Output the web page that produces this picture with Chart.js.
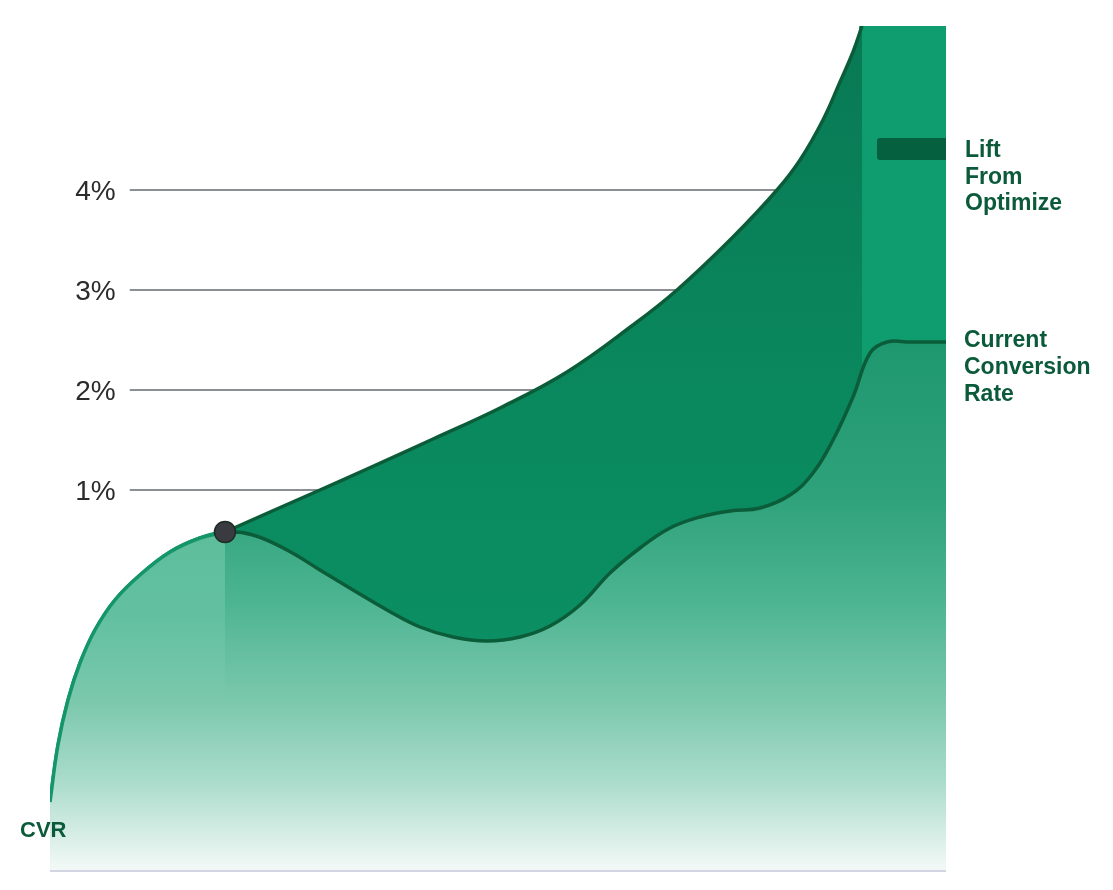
<!DOCTYPE html>
<html>
<head>
<meta charset="utf-8">
<script src="https://cdn.jsdelivr.net/npm/chart.js@4.4.1/dist/chart.umd.min.js"></script>
<style>
  html, body { margin: 0; padding: 0; background: #ffffff; }
  #wrap { width: 1113px; height: 890px; position: relative; }
</style>
</head>
<body>
<div id="wrap"><canvas id="c" width="1113" height="890"></canvas></div>
<script>
// ---- Data (x: relative time 0–100, y: conversion rate in %) ----
const currentX = [0, 0.89, 2.01, 3.35, 5.02, 7.25, 10.04, 13.39, 16.74, 19.53, 22.66, 26.45, 30.13, 33.82, 37.61, 41.29, 44.98, 48.77, 52.46, 55.80, 59.15, 62.50, 65.85, 69.20, 72.54, 75.89, 79.24, 82.59, 85.16, 87.39, 89.62, 91.52, 93.42, 95.98, 100];
const currentY = [-2.12, -1.55, -1.10, -0.73, -0.40, -0.10, 0.15, 0.38, 0.52, 0.58, 0.55, 0.40, 0.20, 0.00, -0.20, -0.37, -0.47, -0.51, -0.47, -0.36, -0.15, 0.17, 0.42, 0.62, 0.73, 0.79, 0.82, 0.95, 1.17, 1.50, 1.93, 2.37, 2.48, 2.48, 2.48];
const liftX = [19.53, 24.55, 30.13, 35.38, 42.75, 50.22, 57.70, 65.07, 69.98, 76.23, 81.14, 83.71, 86.27, 88.17, 89.62, 90.63];
const liftY = [0.58, 0.78, 1.00, 1.21, 1.51, 1.82, 2.18, 2.65, 3.00, 3.53, 4.00, 4.30, 4.70, 5.08, 5.38, 5.64];
const bandX = [90.3, 100];
const bandY = [5.64, 5.64];
const markerX = [19.53];
const markerY = [0.58];
const splitX = 19.53;           // where the optimisation starts
const yTicks = [1, 2, 3, 4];    // percent tick labels
const gridStartX = 8.9;
const yMin = -2.8, yMax = 5.64;
const liftLabel = ['Lift', 'From', 'Optimize'];
const currentLabel = ['Current', 'Conversion', 'Rate'];
const axisLabel = 'CVR';

const toPts = (xs, ys) => xs.map((x, i) => ({ x, y: ys[i] }));
const leftIdx = currentX.filter(x => x <= splitX).length;
const leftX = currentX.slice(0, leftIdx);
const leftY = currentY.slice(0, leftIdx);

function vGrad(ctx, area, stops) {
  const g = ctx.createLinearGradient(0, area.top, 0, area.bottom);
  stops.forEach(s => g.addColorStop(s[0], s[1]));
  return g;
}
// stops given in pixel-fractions of the plot height
const rightStops = [[0, '#16906a'], [0.37, '#1e976f'], [0.56, '#2fa27b'], [0.68, '#4cb491'], [0.80, '#7bc8ad'], [0.895, '#aadccb'], [0.985, '#e9f5f1'], [1, '#f2f9f6']];
const leftStops  = [[0, '#55bb97'], [0.60, '#5ebe9c'], [0.70, '#62c0a0'], [0.80, '#7bc8ad'], [0.895, '#aadccb'], [0.985, '#e9f5f1'], [1, '#f2f9f6']];
const liftStops  = [[0, '#087954'], [0.4, '#0a875d'], [0.75, '#0b8f63'], [1, '#0b8f63']];

const decor = {
  id: 'decor',
  beforeDatasetsDraw(chart) {
    const { ctx, chartArea: a, scales: { x, y } } = chart;
    ctx.save();
    // grid lines
    ctx.strokeStyle = '#8b8e93';
    ctx.lineWidth = 2;
    const gx = x.getPixelForValue(gridStartX);
    const gxEnd = x.getPixelForValue(bandX[0]) + 2;
    yTicks.forEach(t => {
      const py = Math.round(y.getPixelForValue(t));
      ctx.beginPath(); ctx.moveTo(gx, py); ctx.lineTo(gxEnd, py); ctx.stroke();
    });
    // tick labels
    ctx.fillStyle = '#2b2b2b';
    ctx.font = '28px "Liberation Sans", Arial, sans-serif';
    ctx.textAlign = 'right';
    ctx.textBaseline = 'alphabetic';
    yTicks.forEach(t => {
      ctx.fillText(t + '%', gx - 14, y.getPixelForValue(t) + 10);
    });
    ctx.restore();
  },
  afterDatasetsDraw(chart) {
    const { ctx, chartArea: a, scales: { x, y } } = chart;
    ctx.save();
    // baseline
    ctx.strokeStyle = '#d3d3e3';
    ctx.lineWidth = 2;
    ctx.beginPath(); ctx.moveTo(a.left, a.bottom + 1); ctx.lineTo(a.right, a.bottom + 1); ctx.stroke();
    // legend swatch for lift
    const sw = 69, sh = 22, sy = 138;
    ctx.fillStyle = '#05603f';
    ctx.beginPath();
    ctx.roundRect(a.right - sw, sy, sw, sh, [3, 0, 0, 3]);
    ctx.fill();
    // labels
    ctx.fillStyle = '#0b5a3a';
    ctx.font = 'bold 23px "Liberation Sans", Arial, sans-serif';
    ctx.textAlign = 'left';
    ctx.textBaseline = 'alphabetic';
    const lx = a.right + 19;
    liftLabel.forEach((s, i) => ctx.fillText(s, lx, sy + sh / 2 + 8 + i * 26.5));
    const cy = y.getPixelForValue(currentY[currentY.length - 1]);
    currentLabel.forEach((s, i) => ctx.fillText(s, lx - 1, cy + 5 + i * 26.8));
    ctx.font = 'bold 22px "Liberation Sans", Arial, sans-serif';
    ctx.fillText(axisLabel, 20, 837);
    ctx.restore();
  }
};

const smooth = 0.4;
new Chart(document.getElementById('c'), {
  type: 'line',
  data: {
    datasets: [
      { // optimisation start marker
        label: 'marker', data: toPts(markerX, markerY), order: 0,
        showLine: false, pointRadius: 10.5, pointBackgroundColor: '#3a3b41',
        pointBorderColor: '#1e2b25', pointBorderWidth: 1.5, clip: false
      },
      { // left (pre-optimisation) part of current rate
        label: 'left', data: toPts(leftX, leftY), order: 1,
        fill: 'start', borderColor: '#15956a', borderWidth: 3.5, pointRadius: 0,
        tension: smooth,
        backgroundColor: c => c.chart.chartArea ? vGrad(c.chart.ctx, c.chart.chartArea, leftStops) : '#5cbd9b'
      },
      { // current conversion rate
        label: 'Current Conversion Rate', data: toPts(currentX, currentY), order: 2,
        fill: 'start', borderColor: '#0b5d3a', borderWidth: 3.5, pointRadius: 0,
        tension: smooth,
        segment: { borderColor: s => s.p1.parsed.x <= splitX ? '#15956a' : '#0b5d3a' },
        backgroundColor: c => c.chart.chartArea ? vGrad(c.chart.ctx, c.chart.chartArea, rightStops) : '#3aab85'
      },
      { // lift from optimize
        label: 'Lift From Optimize', data: toPts(liftX, liftY), order: 3,
        fill: 'start', borderColor: '#0b5d3a', borderWidth: 3.5, pointRadius: 0,
        tension: smooth,
        backgroundColor: c => c.chart.chartArea ? vGrad(c.chart.ctx, c.chart.chartArea, liftStops) : '#0a8a5f'
      },
      { // projected band
        label: 'band', data: toPts(bandX, bandY), order: 4,
        fill: 'start', borderWidth: 0, pointRadius: 0, backgroundColor: '#0f9d6f'
      }
    ]
  },
  options: {
    responsive: false,
    animation: false,
    events: [],
    layout: { padding: { left: 50, right: 167, top: 26, bottom: 20 } },
    scales: {
      x: { type: 'linear', min: 0, max: 100, display: false },
      y: { type: 'linear', min: yMin, max: yMax, display: false }
    },
    plugins: { legend: { display: false }, tooltip: { enabled: false } }
  },
  plugins: [decor]
});
</script>
</body>
</html>
